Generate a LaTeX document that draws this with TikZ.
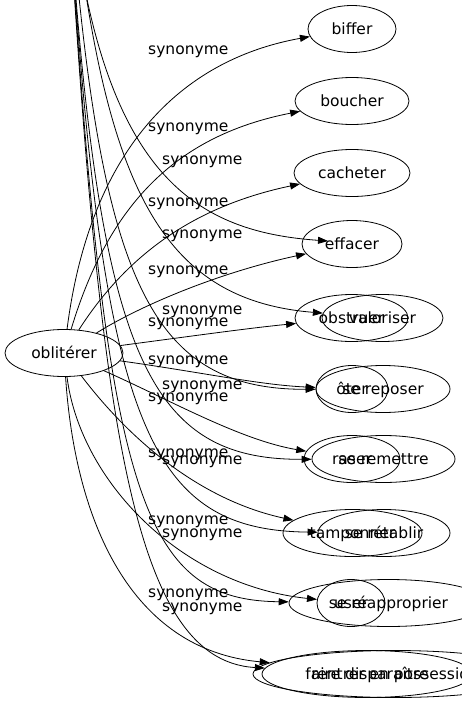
\documentclass[tikz,border=0pt]{standalone}
\usepackage{fontspec}
\setmainfont{DejaVu Sans}
\usetikzlibrary{shapes.geometric,arrows.meta}
\begin{document}
\begin{tikzpicture}[x=1pt,y=-1pt,
  nd/.style={draw,ellipse,inner sep=0pt,minimum height=47pt,text height=11.5pt,text depth=0pt,font=\fontsize{15.5}{18}\selectfont,line width=0.8pt},
  lb/.style={font=\fontsize{15.5}{18}\selectfont,inner sep=0pt,anchor=base west},
  ed/.style={-{Triangle[length=10pt,width=7pt]},line width=0.8pt}]
\useasboundingbox (0,0) rectangle (461,707);
% nodes
\node[nd,minimum width=118pt] (obl) at (64,353) {oblitérer};
\node[nd,minimum width=88pt] (biffer) at (352,29) {biffer};
\node[nd,minimum width=114pt] (boucher) at (352,101) {boucher};
\node[nd,minimum width=116pt] (cacheter) at (352,173) {cacheter};
\node[nd,minimum width=100pt] (effacer) at (352,244) {effacer};
\node[nd,minimum width=113pt] (obstruer) at (351.5,318) {obstruer};
\node[nd,minimum width=121pt] (valoriser) at (382.5,318) {valoriser};
\node[nd,minimum width=72pt] (oter) at (352,389) {ôter};
\node[nd,minimum width=134pt] (sereposer) at (383,389) {se reposer};
\node[nd,minimum width=96pt] (raser) at (352,459) {raser};
\node[nd,minimum width=143pt] (seremettre) at (383.5,459) {se remettre};
\node[nd,minimum width=139pt] (tamponner) at (352.5,533) {tamponner};
\node[nd,minimum width=132pt] (seretablir) at (384,533) {se rétablir};
\node[nd,minimum width=68pt] (user) at (351,603) {user};
\node[nd,minimum width=199pt] (sereappro) at (388.5,603) {se réapproprier};
\node[nd,minimum width=210pt] (fdisp) at (367,674) {faire disparaître};
\node[nd,minimum width=284pt] (rentrer) at (395,674) {rentrer en possession};
\coordinate (src) at (60,-250);
\coordinate (effin) at (328,241);
% edges from oblitérer
\draw[ed] (obl) .. controls (90,150) and (180,60) .. (biffer);
\draw[ed] (obl) .. controls (110,200) and (180,135) .. (boucher);
\draw[ed] (obl) .. controls (130,250) and (200,205) .. (cacheter);
\draw[ed] (obl) .. controls (150,300) and (230,270) .. (effacer);
\draw[ed] (obl) .. controls (200,335) and (250,328) .. (obstruer);
\draw[ed] (obl) .. controls (200,372) and (260,385) .. (oter);
\draw[ed] (obl) .. controls (170,400) and (240,440) .. (raser);
\draw[ed] (obl) .. controls (130,440) and (200,500) .. (tamponner);
\draw[ed] (obl) .. controls (80,480) and (180,585) .. (user);
\draw[ed] (obl) .. controls (75,520) and (130,650) .. (rentrer);
% edges from the source above
\draw[ed] (src) .. controls (75,150) and (170,230) .. (effin);
\draw[ed] (src) .. controls (90,150) and (138,298) .. (valoriser);
\draw[ed] (src) .. controls (90,250) and (130,390) .. (sereposer);
\draw[ed] (src) .. controls (90,330) and (130,460) .. (seremettre);
\draw[ed] (src) .. controls (95,400) and (130,530) .. (seretablir);
\draw[ed] (src) .. controls (100,480) and (130,600) .. (sereappro);
\draw[ed] (src) .. controls (95,400) and (125,660) .. (fdisp);
% labels
\node[lb] (l1) at (148,54) {synonyme};
\node[lb] (l2) at (148,131) {synonyme};
\node[lb] (l3) at (162,164) {synonyme};
\node[lb] (l4) at (148,206) {synonyme};
\node[lb] (l5) at (162,238) {synonyme};
\node[lb] (l6) at (148,274) {synonyme};
\node[lb] (l7) at (162,314) {synonyme};
\node[lb] (l8) at (148,326) {synonyme};
\node[lb] (l9) at (148,364) {synonyme};
\node[lb] (l10) at (162,389) {synonyme};
\node[lb] (l11) at (148,401) {synonyme};
\node[lb] (l12) at (148,457) {synonyme};
\node[lb] (l13) at (162,464) {synonyme};
\node[lb] (l14) at (148,524) {synonyme};
\node[lb] (l15) at (162,537) {synonyme};
\node[lb] (l16) at (148,597) {synonyme};
\node[lb] (l17) at (162,611) {synonyme};
\end{tikzpicture}
\end{document}
